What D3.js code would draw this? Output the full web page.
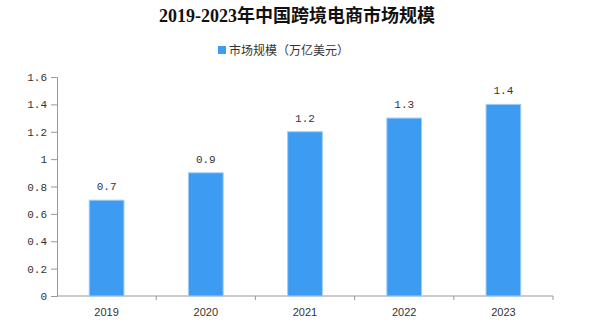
<!DOCTYPE html>
<html>
<head>
<meta charset="utf-8">
<script src="https://cdn.jsdelivr.net/npm/d3@7"></script>
<style>
  html, body { margin: 0; padding: 0; background: #fff; }
  svg { display: block; }
</style>
</head>
<body>
<svg id="chart" width="590" height="324"></svg>
<script>
// Chart data
const years = ["2019", "2020", "2021", "2022", "2023"];
const marketSize = [0.7, 0.9, 1.2, 1.3, 1.4];
const yTicks = [0, 0.2, 0.4, 0.6, 0.8, 1, 1.2, 1.4, 1.6];
const titleText = "2019-2023年中国跨境电商市场规模";
const seriesName = "市场规模（万亿美元）";

const svg = d3.select("#chart");
const W = 590, H = 324;
const margin = { left: 57, right: 37, top: 77, bottom: 28 };
const plotW = W - margin.left - margin.right;
const plotH = H - margin.top - margin.bottom;

const barColor = "#3d9bf1";
const axisColor = "#999";
const textColor = "#333";
const monoFont = "'Liberation Mono', 'DejaVu Sans Mono', monospace";

const x = d3.scaleBand().domain(years).range([margin.left, margin.left + plotW]).padding(0);
const y = d3.scaleLinear().domain([0, 1.6]).range([margin.top + plotH, margin.top]);

// Title
svg.append("text")
  .attr("x", 297).attr("y", 22)
  .attr("text-anchor", "middle")
  .attr("font-family", "'Liberation Serif', 'Noto Sans CJK SC', serif")
  .attr("font-weight", "bold")
  .attr("font-size", 18)
  .attr("fill", "#111")
  .text(titleText);

// Legend
const legend = svg.append("g").attr("transform", "translate(218,46)");
legend.append("rect").attr("x", 0).attr("y", 0).attr("width", 8).attr("height", 8).attr("fill", barColor);
legend.append("text")
  .attr("x", 11).attr("y", 8.5)
  .attr("font-family", "'Noto Sans CJK SC', sans-serif")
  .attr("font-size", 12)
  .attr("fill", textColor)
  .text(seriesName);

// Y axis
const yAxis = svg.append("g")
  .attr("transform", `translate(${margin.left},0)`)
  .call(d3.axisLeft(y).tickValues(yTicks).tickSize(6).tickPadding(4).tickFormat(d => d3.format("")(+d.toFixed(1))));
yAxis.select(".domain").attr("stroke", axisColor);
yAxis.selectAll(".tick line").attr("stroke", axisColor);
yAxis.selectAll(".tick text")
  .attr("font-family", monoFont)
  .attr("font-size", 11)
  .attr("fill", textColor);

// X axis with ticks at band boundaries
const xAxisG = svg.append("g").attr("transform", `translate(0,${margin.top + plotH})`);
xAxisG.append("line")
  .attr("x1", margin.left).attr("x2", margin.left + plotW)
  .attr("stroke", axisColor);
const boundaries = years.map(d => x(d) + x.bandwidth());
xAxisG.selectAll("line.tk").data(boundaries).enter().append("line")
  .attr("class", "tk")
  .attr("x1", d => d).attr("x2", d => d)
  .attr("y1", 0).attr("y2", 4)
  .attr("stroke", axisColor);
xAxisG.selectAll("text").data(years).enter().append("text")
  .attr("x", d => x(d) + x.bandwidth() / 2)
  .attr("y", 20)
  .attr("text-anchor", "middle")
  .attr("font-family", "'Liberation Sans', Arial, sans-serif")
  .attr("font-size", 11)
  .attr("fill", textColor)
  .text(d => d);

// Bars
const barW = x.bandwidth() * 0.35;
const data = years.map((d, i) => ({ year: d, value: marketSize[i] }));
svg.append("g").selectAll("rect").data(data).enter().append("rect")
  .attr("x", d => x(d.year) + (x.bandwidth() - barW) / 2)
  .attr("y", d => y(d.value))
  .attr("width", barW)
  .attr("height", d => y(0) - y(d.value))
  .attr("fill", barColor)
  .attr("stroke", "#9fcdf6")
  .attr("stroke-width", 1);

// Value labels
svg.append("g").selectAll("text").data(data).enter().append("text")
  .attr("x", d => x(d.year) + x.bandwidth() / 2)
  .attr("y", d => y(d.value) - 10)
  .attr("text-anchor", "middle")
  .attr("font-family", monoFont)
  .attr("font-size", 11)
  .attr("fill", textColor)
  .text(d => d.value.toFixed(1));
</script>
</body>
</html>
